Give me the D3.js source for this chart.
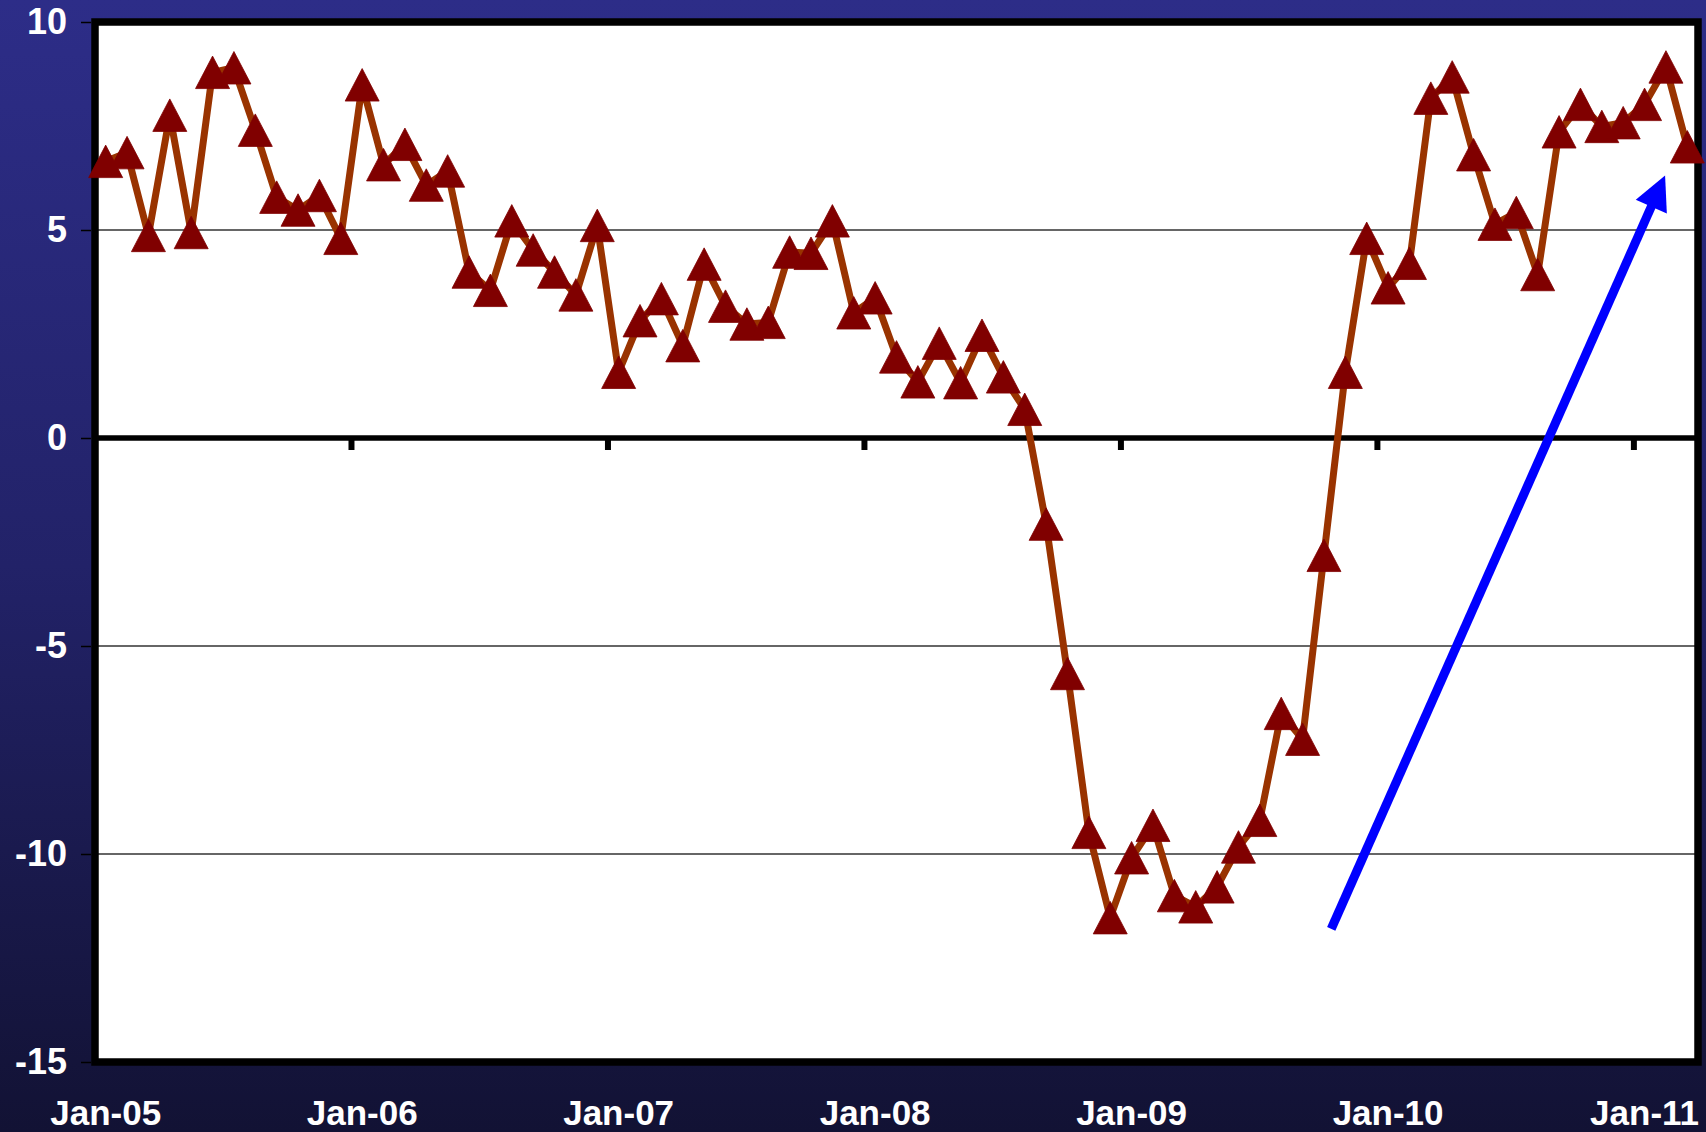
<!DOCTYPE html>
<html>
<head>
<meta charset="utf-8">
<script src="https://cdn.jsdelivr.net/npm/d3@7"></script>
<style>
  html, body { margin: 0; padding: 0; background: #1a1a50; }
  svg { display: block; }
  text { font-family: "Liberation Sans", Arial, Helvetica, sans-serif; font-weight: bold; }
</style>
</head>
<body>
<svg id="chart" width="1706" height="1132"></svg>
<script>
// ---- data ----
const monthNames = ["Jan","Feb","Mar","Apr","May","Jun","Jul","Aug","Sep","Oct","Nov","Dec"];
const yearLabels = ["05","06","07","08","09","10","11"];
const categories = yearLabels.flatMap(y => monthNames.map(m => m + "-" + y)).slice(0, 75); // Jan-05 .. Mar-11
const values = [
  6.65, 6.86, 4.87, 7.76, 4.94, 8.79, 8.90, 7.40, 5.79, 5.48, 5.83, 4.80,
  8.49, 6.57, 7.06, 6.08, 6.42, 3.99, 3.55, 5.22, 4.52, 3.99, 3.44, 5.11,
  1.58, 2.82, 3.35, 2.22, 4.18, 3.17, 2.74, 2.78, 4.47, 4.44, 5.22, 3.01,
  3.37, 1.95, 1.35, 2.28, 1.33, 2.47, 1.47, 0.69, -2.07, -5.66, -9.48, -11.53,
  -10.09, -9.31, -11.00, -11.27, -10.79, -9.83, -9.19, -6.62, -7.24, -2.82, 1.58, 4.80,
  3.61, 4.20, 8.17, 8.68, 6.81, 5.14, 5.42, 3.93, 7.36, 8.02, 7.49, 7.58,
  8.02, 8.92, 7.00
];
const xTickLabels = ["Jan-05","Jan-06","Jan-07","Jan-08","Jan-09","Jan-10","Jan-11"];
const yTickValues = [-15, -10, -5, 0, 5, 10];
const gridValues = [5, -5, -10];
// arrow annotation in data terms (category position index, value)
const arrowFrom = { pos: 57.34, value: -11.8 };
const arrowTo   = { pos: 72.96, value: 6.31 };

// ---- layout ----
const W = 1706, H = 1132;
const L = 95, R = 1698, T = 22, B = 1062;

const svg = d3.select("#chart");
const defs = svg.append("defs");
const grad = defs.append("linearGradient").attr("id", "bg").attr("x1", 0).attr("y1", 0).attr("x2", 0).attr("y2", 1);
grad.append("stop").attr("offset", "0%").attr("stop-color", "#2D2D88");
grad.append("stop").attr("offset", "50%").attr("stop-color", "#222268");
grad.append("stop").attr("offset", "100%").attr("stop-color", "#121234");

svg.append("rect").attr("width", W).attr("height", H).attr("fill", "url(#bg)");

const x = d3.scaleBand().domain(categories).range([L, R]).padding(0);
const bw = x.bandwidth();
const cx = c => x(c) + bw / 2;
const posX = d3.scaleLinear().domain([0, categories.length]).range([L, R]);
const y = d3.scaleLinear().domain([-15, 10]).range([B, T]);

// plot area
svg.append("rect").attr("x", L).attr("y", T).attr("width", R - L).attr("height", B - T).attr("fill", "#ffffff");

// gridlines
svg.append("g").selectAll("line").data(gridValues).join("line")
  .attr("x1", L).attr("x2", R)
  .attr("y1", d => y(d)).attr("y2", d => y(d))
  .attr("stroke", "#333333").attr("stroke-width", 1.4);

// zero line
svg.append("line").attr("x1", L).attr("x2", R).attr("y1", y(0)).attr("y2", y(0))
  .attr("stroke", "#000").attr("stroke-width", 5.5);

// year ticks on zero line (band boundaries)
svg.append("g").selectAll("line").data(xTickLabels.slice(1)).join("line")
  .attr("x1", d => x(d)).attr("x2", d => x(d))
  .attr("y1", y(0)).attr("y2", y(0) + 12)
  .attr("stroke", "#000").attr("stroke-width", 6);

// frame
svg.append("rect").attr("x", L).attr("y", T).attr("width", R - L).attr("height", B - T)
  .attr("fill", "none").attr("stroke", "#000").attr("stroke-width", 7.5);

// y axis
const yAxis = svg.append("g").attr("transform", `translate(${L - 4},0)`)
  .call(d3.axisLeft(y).tickValues(yTickValues).tickSize(10).tickPadding(14).tickFormat(d => String(d)));
yAxis.select(".domain").remove();
yAxis.selectAll(".tick line").attr("stroke", "#000").attr("stroke-width", 1.5);
yAxis.selectAll("text").attr("fill", "#ffffff").attr("font-size", 36)
  .style("font-family", "'Liberation Sans', Arial, sans-serif").style("font-weight", "bold");

// x axis labels
const xAxis = svg.append("g").attr("transform", `translate(0,${B})`)
  .call(d3.axisBottom(x).tickValues(xTickLabels).tickSize(0).tickPadding(38));
xAxis.select(".domain").remove();
xAxis.selectAll("text").attr("fill", "#ffffff").attr("font-size", 35)
  .style("font-family", "'Liberation Sans', Arial, sans-serif").style("font-weight", "bold");

// line
const pts = categories.map((c, i) => ({ c, v: values[i] }));
svg.append("path").datum(pts)
  .attr("fill", "none").attr("stroke", "#993300").attr("stroke-width", 7).attr("stroke-linejoin", "round")
  .attr("d", d3.line().x(d => cx(d.c)).y(d => y(d.v)));

// markers (triangles)
const tw = 34, th = 32.5;
svg.append("g").selectAll("path").data(pts).join("path")
  .attr("transform", d => `translate(${cx(d.c)},${y(d.v)})`)
  .attr("d", `M0,${-th / 2}L${tw / 2},${th / 2}L${-tw / 2},${th / 2}Z`)
  .attr("fill", "#800000").attr("stroke", "#800000").attr("stroke-width", 0.8);

// blue arrow
const ax1 = posX(arrowFrom.pos + 0.5), ay1 = y(arrowFrom.value);
const ax2 = posX(arrowTo.pos + 0.5), ay2 = y(arrowTo.value);
const dx = ax2 - ax1, dy = ay2 - ay1, len = Math.hypot(dx, dy);
const ux = dx / len, uy = dy / len;
const headLen = 34, headHalf = 17;
const bx = ax2 - ux * headLen, by = ay2 - uy * headLen;
svg.append("line").attr("x1", ax1).attr("y1", ay1).attr("x2", bx + ux * 2).attr("y2", by + uy * 2)
  .attr("stroke", "#0000FF").attr("stroke-width", 9);
svg.append("path")
  .attr("d", `M${ax2},${ay2}L${bx - uy * headHalf},${by + ux * headHalf}L${bx + uy * headHalf},${by - ux * headHalf}Z`)
  .attr("fill", "#0000FF");
</script>
</body>
</html>
